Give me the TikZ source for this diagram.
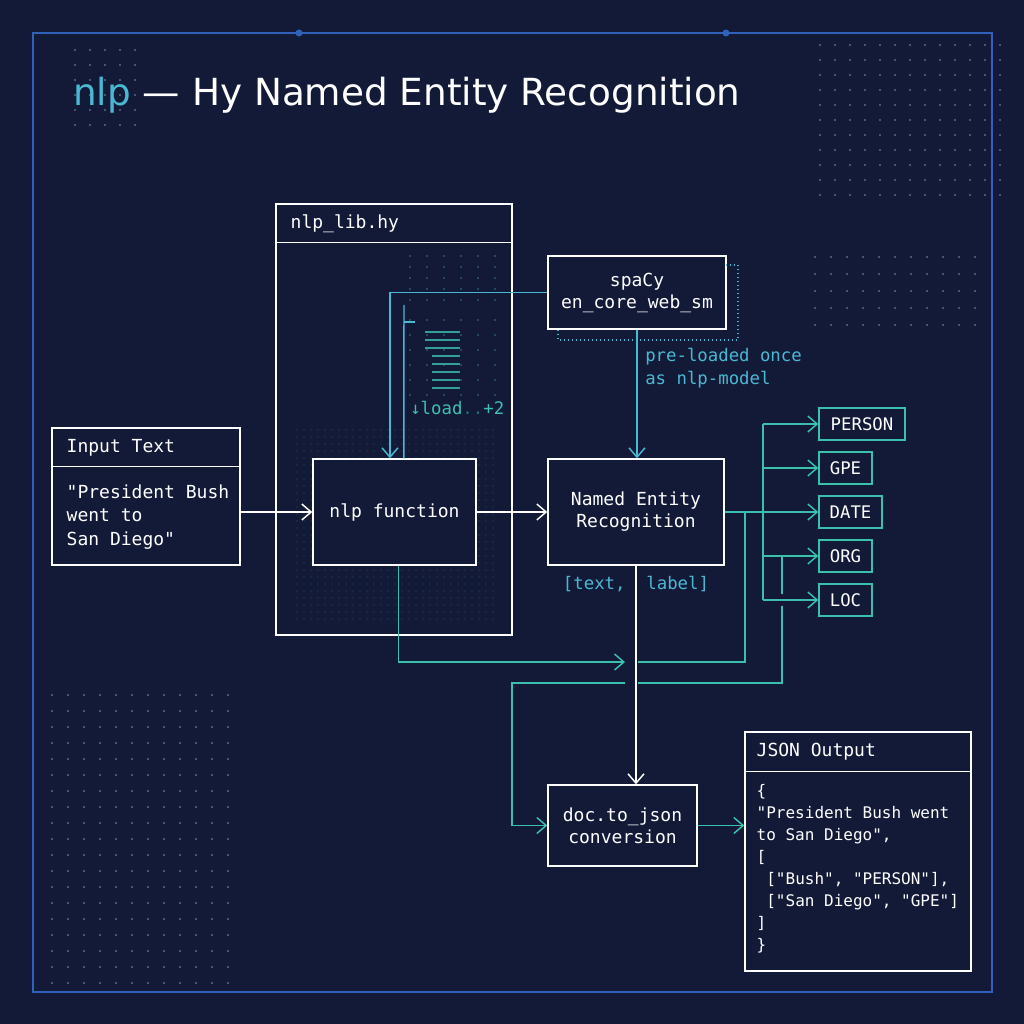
\documentclass[tikz,border=0pt]{standalone}
\usepackage{fontspec}
\setmainfont{DejaVu Sans}
\setmonofont{DejaVu Sans Mono}
\usetikzlibrary{arrows.meta,calc}
\definecolor{bg}{HTML}{131A38}
\definecolor{teal}{HTML}{3CC0AE}
\definecolor{sky}{HTML}{4BB8D2}
\definecolor{frame}{HTML}{2F62B8}
\definecolor{dotc}{HTML}{5A6A8A}
\tikzset{
  box/.style={draw=white, line width=1.1pt, fill=bg, text=white, font=\ttfamily\fontsize{13.5}{16.5}\selectfont, align=center},
  tagbox/.style={draw=teal, line width=1.1pt, fill=bg, text=white, font=\ttfamily\fontsize{13}{16}\selectfont, minimum height=24pt},
  wline/.style={draw=white, line width=1.1pt},
  tline/.style={draw=teal, line width=1.1pt},
  sline/.style={draw=sky, line width=1.1pt},
  tip/.style={-{Straight Barb[length=7pt,width=12pt]}},
}
\begin{document}
\begin{tikzpicture}[x=0.75pt,y=0.75pt,yscale=-1,xscale=1]
% background and frame
\fill[bg] (0,0) rectangle (1024,1024);
\draw[frame, line width=1pt] (33,33) rectangle (992,992);
\fill[frame] (299,33) circle (3.5);
\fill[frame] (726,33) circle (3.5);

% dot grids
\foreach \x in {75,90,...,135} \foreach \y in {50,65,...,135} \fill[dotc] (\x,\y) circle (1.1);
\foreach \x in {820,835,...,1000} \foreach \y in {45,60,...,195} \fill[dotc] (\x,\y) circle (1.1);
\foreach \x in {815,831,...,975} \foreach \y in {257,274,...,325} \fill[dotc] (\x,\y) circle (1.1);
\foreach \x in {52,68,...,240} \foreach \y in {695,711,...,985} \fill[dotc] (\x,\y) circle (1.1);

% title
\node[anchor=west, font=\fontsize{28}{32}\selectfont, text=white, inner sep=0pt] (title) at (73,95)
  {\textcolor{sky}{nlp} — Hy Named Entity Recognition};

% module box
\node[box, minimum width=177pt, minimum height=323.25pt] (lib) at (394,419.5) {};
\draw[wline] ([yshift=29.25pt]lib.north west) -- ([yshift=29.25pt]lib.north east);
\node[anchor=west, text=white, font=\ttfamily\fontsize{13.5}{16}\selectfont] (libname) at (286,224) {nlp\_lib.hy};
\foreach \x in {410,427,...,495} \foreach \y in {256,267,...,300} \fill[sky!60!bg] (\x,\y) circle (0.9);
\foreach \x in {410,427,...,495} \foreach \y in {320,335,...,395} \fill[sky!60!bg] (\x,\y) circle (0.9);
\foreach \x in {297,304,...,497} \foreach \y in {430,437,...,625} \fill[teal!35!bg] (\x,\y) circle (0.7);
\foreach \y/\a/\b in {332/425/460,340/425/460,348/425/460,356/432/460,364/432/460,372/432/460,380/432/460,388/432/460}
  \draw[teal!80!bg, line width=1pt] (\a,\y) -- (\b,\y);
\draw[sky, line width=1pt] (404,322) -- (415,322);
\node[anchor=west, text=teal, font=\ttfamily\fontsize{13}{15}\selectfont, inner sep=0pt] (loadtxt) at (410,408) {↓load\textcolor{teal!50!bg}{..}+2};

% main nodes
\node[box, minimum width=141pt, minimum height=102.75pt] (input) at (146,496.5) {};
\draw[wline] ([yshift=29.25pt]input.north west) -- ([yshift=29.25pt]input.north east);
\node[anchor=west, text=white, font=\ttfamily\fontsize{13.5}{16}\selectfont] (inputhd) at (62,448) {Input Text};
\node[anchor=north west, text=white, align=left, font=\ttfamily\fontsize{13.5}{17.5}\selectfont] (inputtxt) at (62,480)
  {"President Bush\\went to\\San Diego"};

\node[box, minimum width=122.25pt, minimum height=79.5pt] (nlpfn) at (394.5,512) {nlp function};
\node[box, minimum width=132pt, minimum height=79.5pt] (ner) at (636,512) {Named Entity\\Recognition};
\node[box, minimum width=133.5pt, minimum height=54.75pt] (spacy) at (637,292.5) {spaCy\\en\_core\_web\_sm};
\node[box, minimum width=111.75pt, minimum height=60.75pt] (doc) at (622.5,825.5) {doc.to\_json\\conversion};

\node[box, minimum width=169.5pt, minimum height=179.25pt] (json) at (858,851.5) {};
\draw[wline] ([yshift=30pt]json.north west) -- ([yshift=30pt]json.north east);
\node[anchor=west, text=white, font=\ttfamily\fontsize{13.5}{16}\selectfont] (jsonhd) at (752,752) {JSON Output};
\node[anchor=north west, text=white, align=left, font=\ttfamily\fontsize{12}{16.5}\selectfont] (jsontxt) at (752,780)
  {\{\\"President Bush went\\to San Diego",\\{[}\\\ {[}"Bush", "PERSON"{]},\\\ {[}"San Diego", "GPE"{]}\\{]}\\\}};

% entity tags
\node[tagbox, minimum width=64.5pt] (person) at (862,424) {PERSON};
\node[tagbox, minimum width=39.75pt] (gpe) at (845.5,468) {GPE};
\node[tagbox, minimum width=47.25pt] (date) at (850.5,512) {DATE};
\node[tagbox, minimum width=39.75pt] (org) at (845.5,556) {ORG};
\node[tagbox, minimum width=39.75pt] (loc) at (845.5,600) {LOC};

% spaCy shadow
\draw[sky, dotted, line width=1pt] (726,265) -- (738,265) -- (738,340) -- (558,340) -- (558,329);

% connectors
\draw[wline, tip] (input.east |- nlpfn) -- (nlpfn);
\draw[wline, tip] (nlpfn) -- (ner);
\draw[wline, tip] (ner.south) -- (ner.south |- doc.north);
\draw[sline, tip] (spacy.west) -| ([xshift=-3.4pt]nlpfn.north);
\draw[sline] (404,305) -- ([xshift=7pt]nlpfn.north);
\draw[sline, tip] (spacy.south) -- (spacy.south |- ner.north);
\node[anchor=north west, text=sky, align=left, font=\ttfamily\fontsize{13}{17}\selectfont, inner sep=0pt] (preload) at (645,348)
  {pre-loaded once\\as nlp-model};
\node[text=sky, font=\ttfamily\fontsize{13}{15}\selectfont] (pair) at (636,584) {[text,\ \ label]};

\coordinate (trunk) at (763,512);
\draw[tline] (ner.east) -- (trunk);
\draw[tline] (trunk |- person.west) -- (trunk |- loc.west);
\foreach \t in {person,gpe,date,org,loc}
  \draw[tline, tip] (trunk |- \t.west) -- (\t.west);

\coordinate (down1) at (745,512);
\coordinate (mid1) at (745,662);
\draw[tline] (down1) -- (mid1) -- (638,662);
\draw[tline, tip] ([xshift=3pt]nlpfn.south) |- (625,662);

\coordinate (down2) at (782,556);
\draw[tline] (down2) -- (782,594);
\draw[tline] (782,606) -- (782,683) -- (638,683);
\draw[tline, tip] (625,683) -- (512,683) |- (doc.west);
\draw[tline, tip] (doc.east) -- (json.west |- doc.east);
\end{tikzpicture}
\end{document}
